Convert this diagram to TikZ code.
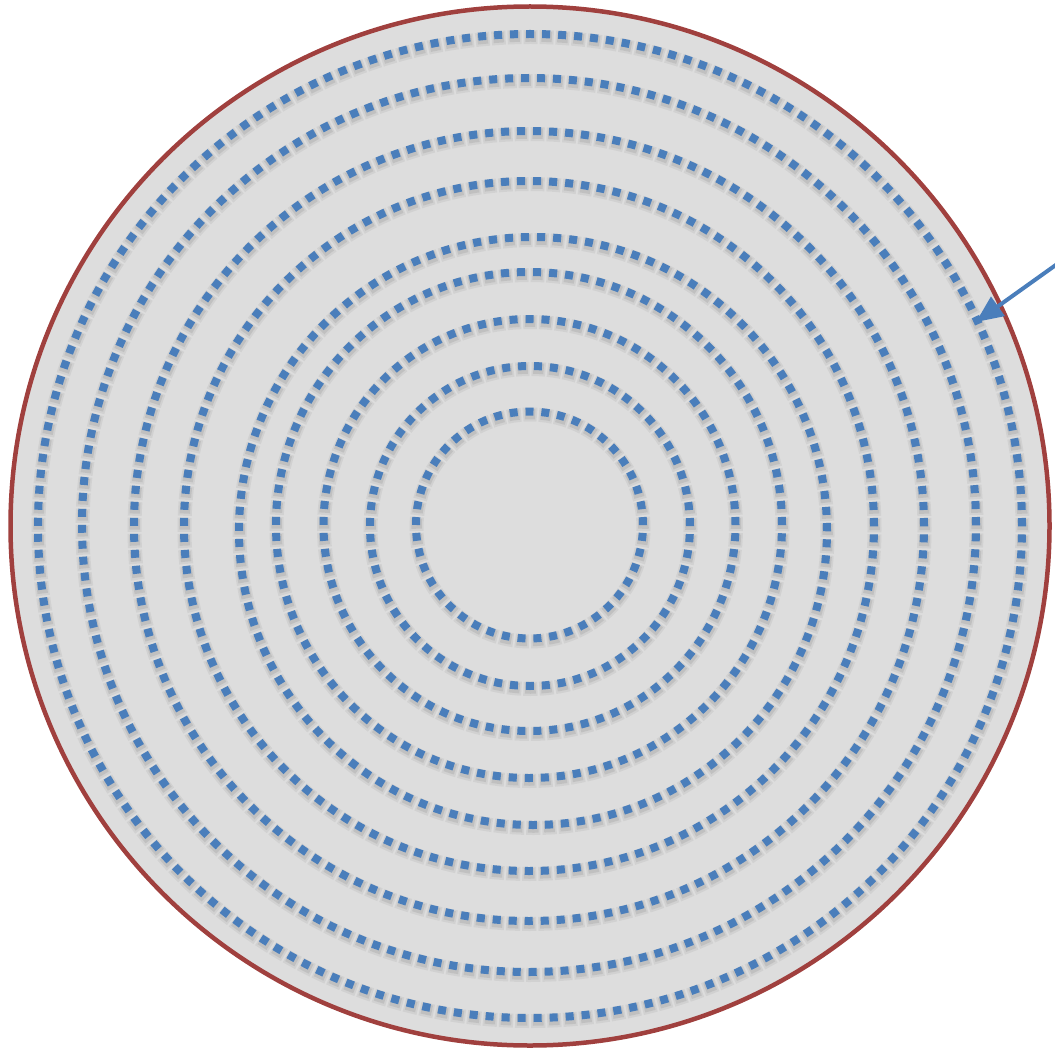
\documentclass[tikz,border=0pt]{standalone}
\usetikzlibrary{arrows.meta}
\definecolor{ringblue}{HTML}{4A7EBB}
\definecolor{diskgray}{HTML}{DDDDDD}
\definecolor{rimred}{HTML}{A0403E}
\tikzset{
  disk/.style={draw=rimred, fill=diskgray, line width=4.5pt},
  pointer/.style={draw=ringblue, line width=4pt, -{Triangle[length=27pt,width=23pt]}}
}
\begin{document}
\begin{tikzpicture}[x=1pt,y=1pt]
\useasboundingbox (0,0) rectangle (1055,-1051);
\path[disk] (530,-526) circle (519.5);
\foreach \cx/\cy/\r [count=\i] in {530/526/492, 529/525/447, 529/526/395, 529/526/345, 533/531/294, 529/525/253, 529.5/525/206, 530/526/160, 529.5/525/113.5}{
  \pgfmathsetmacro\per{2*pi*\r/round(2*pi*\r/16)}
  \pgfmathsetmacro\on{\per/2}
  \pgfmathsetmacro\son{\per/2+2.5}
  \pgfmathsetmacro\soff{\per/2-2.5}
  \pgfmathsetmacro\bon{\per/2+6}
  \pgfmathsetmacro\boff{\per/2-6}
  \path[draw=black, opacity=0.08, line width=10.5pt, dash pattern=on \son pt off \soff pt, dash phase=1.25pt] (\cx+0.5,-\cy-2.5) circle (\r);
  \path[draw=black, opacity=0.05, line width=14pt, dash pattern=on \bon pt off \boff pt, dash phase=3pt] (\cx+0.5,-\cy-3) circle (\r);
  \path[draw=ringblue, line width=8pt, dash pattern=on \on pt off \on pt] (\cx,-\cy) circle (\r);
  \coordinate (c\i) at (\cx,-\cy);
}
\coordinate (tail) at (1060,-262);
\coordinate (tip) at (976,-322);
\draw[pointer] (tail) -- (tip);
\end{tikzpicture}
\end{document}
